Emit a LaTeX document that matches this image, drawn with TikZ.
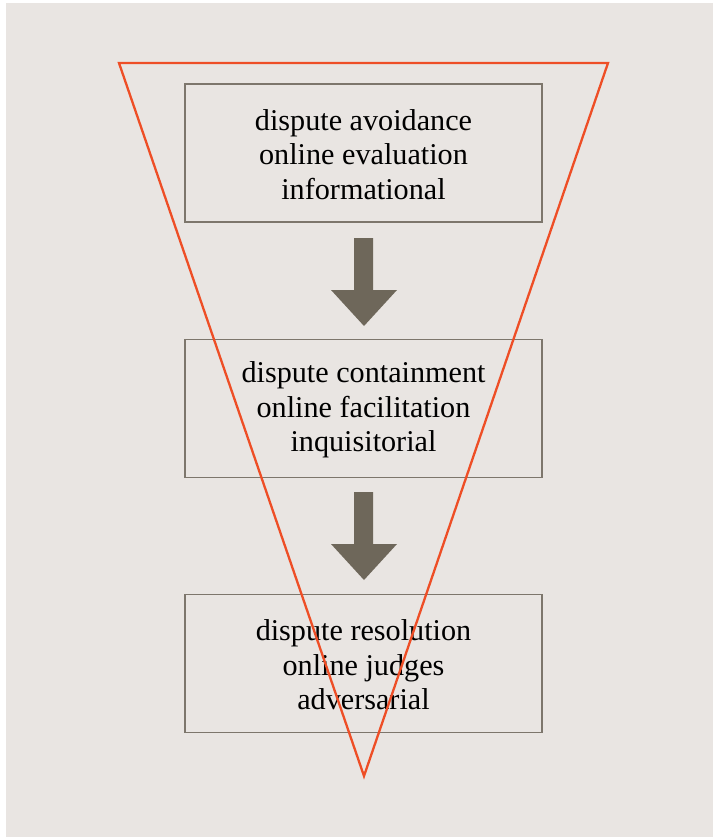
\documentclass[tikz,border=0pt]{standalone}
\usepackage{fontspec}
\setmainfont{Liberation Serif}
\definecolor{panel}{HTML}{E9E5E2}
\definecolor{boxline}{HTML}{7D766C}
\definecolor{arrowfill}{HTML}{6E675A}
\definecolor{funnel}{HTML}{EE4E26}
\begin{document}
\begin{tikzpicture}[x=1bp,y=-1bp,
  stagebox/.style={draw=boxline,line width=1.2bp,minimum width=357bp,minimum height=138bp,inner sep=0pt},
  stagetext/.style={align=center,inner sep=0pt,font=\fontsize{30.3}{34.5}\selectfont},
  downarrow/.style={fill=arrowfill}]
\useasboundingbox (0,0) rectangle (713,837);
\fill[white] (0,0) rectangle (713,837);
\fill[panel] (6,3) rectangle (713,837);
% the three stages
\node[stagebox] (avoid) at (363.5,153) {};
\node[stagetext] (avoidtext) at ([yshift=-1.5bp]avoid.center) {dispute avoidance\\online evaluation\\informational};
\node[stagebox] (contain) at (363.5,408.5) {};
\node[stagetext] (containtext) at ([yshift=-1.5bp]contain.center) {dispute containment\\online facilitation\\inquisitorial};
\node[stagebox] (resolve) at (363.5,663.5) {};
\node[stagetext] (resolvetext) at ([yshift=-1.5bp]resolve.center) {dispute resolution\\online judges\\adversarial};
% block arrows between stages
\fill[downarrow] (354,238) -- (373,238) -- (373,290) -- (397,290) -- (364,326) -- (331,290) -- (354,290) -- cycle;
\fill[downarrow] (354,492) -- (373,492) -- (373,544) -- (397,544) -- (364,580) -- (331,544) -- (354,544) -- cycle;
% funnel outline over the stages
\coordinate (fl) at (119,63);
\coordinate (fr) at (608,63);
\coordinate (fb) at (364,776);
\draw[funnel,line width=2.3bp,line join=miter] (fl) -- (fr) -- (fb) -- cycle;
\end{tikzpicture}
\end{document}
